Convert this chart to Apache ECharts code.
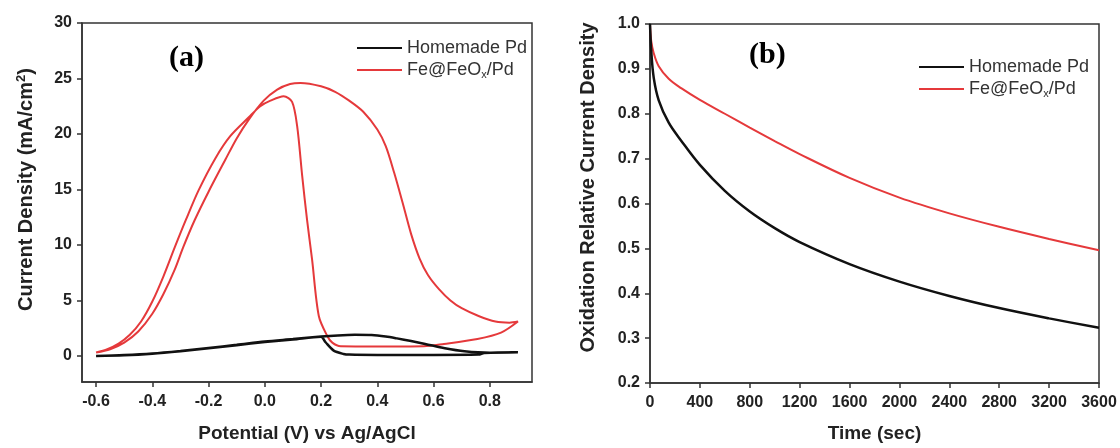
<!DOCTYPE html>
<html><head><meta charset="utf-8">
<script src="https://cdn.jsdelivr.net/npm/echarts@6/dist/echarts.min.js"></script>
<style>html,body{margin:0;padding:0;background:#fff}#c{width:1120px;height:448px}</style>
</head><body><div id="c"></div>
<script>
// ---------- data ----------
const seriesNames = ['Homemade Pd', 'Fe@FeOx/Pd'];
// (a) cyclic voltammograms: potential (V) and current density (mA/cm2), in scan (loop) order
const cvBlackV = [-0.6,-0.5,-0.4,-0.3,-0.2,-0.1,0.0,0.1,0.2,0.26,0.32,0.38,0.43,0.47,0.52,0.57,0.64,0.71,0.8,0.9,
                  0.78,0.76,0.6,0.4,0.3,0.28,0.245,0.216,0.2,0.1,0.0,-0.1,-0.2,-0.3,-0.4,-0.5,-0.6];
const cvBlackI = [0.0,0.08,0.22,0.45,0.72,1.0,1.3,1.52,1.75,1.85,1.9,1.88,1.75,1.58,1.34,1.08,0.69,0.42,0.29,0.32,
                  0.27,0.12,0.09,0.09,0.12,0.18,0.48,1.23,1.72,1.48,1.25,0.97,0.68,0.42,0.2,0.06,0.0];
const cvRedV = [-0.6,-0.55,-0.5,-0.45,-0.4,-0.36,-0.32,-0.29,-0.25,-0.2,-0.14,-0.1,-0.057,-0.004,0.044,0.09,0.127,
                0.2,0.25,0.3,0.35,0.4,0.43,0.46,0.49,0.52,0.55,0.58,0.62,0.66,0.7,0.76,0.82,0.87,0.9,
                0.84,0.756,0.637,0.565,0.4,0.27,0.24,0.222,0.192,0.168,0.15,0.133,0.115,0.097,0.067,
                0.02,-0.016,-0.057,-0.123,-0.176,-0.236,-0.28,-0.32,-0.36,-0.4,-0.44,-0.48,-0.52,-0.56,-0.6];
const cvRedI = [0.3,0.6,1.2,2.2,3.8,5.6,7.8,9.8,12.2,14.8,17.7,19.6,21.3,23.0,24.0,24.5,24.6,
                24.3,23.8,23.0,22.0,20.4,18.9,16.5,13.8,11.0,8.8,7.3,6.0,5.0,4.3,3.6,3.1,3.0,3.1,
                2.1,1.53,1.08,0.87,0.85,0.87,1.2,1.8,3.6,8.7,12.3,16.2,20.7,22.9,23.4,
                23.0,22.5,21.5,19.8,17.8,14.9,12.3,9.8,7.2,4.9,3.1,1.9,1.1,0.6,0.3];
const cvXTicks = [-0.6,-0.4,-0.2,0.0,0.2,0.4,0.6,0.8];
const cvYTicks = [0,5,10,15,20,25,30];
// (b) chronoamperometry: time (s) and relative oxidation current density
const timeSec = [0,10,30,70,150,250,400,600,800,1000,1200,1600,2000,2400,2800,3200,3600];
const homemadeRel = [1.0,0.94,0.88,0.83,0.78,0.74,0.686,0.628,0.582,0.545,0.514,0.465,0.426,0.394,0.367,0.344,0.323];
const fefeoxRel   = [1.0,0.962,0.935,0.906,0.878,0.857,0.831,0.800,0.769,0.739,0.710,0.657,0.613,0.578,0.548,0.521,0.496];
const relYTicks = [0.2,0.3,0.4,0.5,0.6,0.7,0.8,0.9,1.0];

// ---------- chart ----------
const zip = (a, b) => a.map((v, i) => [v, b[i]]);
const axisColor = '#333';
const FONT = 'Liberation Sans, Arial, sans-serif';
const tickLabel = {fontFamily: FONT, fontWeight: 'bold', fontSize: 16, color: '#222'};
const nameStyle = {fontFamily: FONT, fontWeight: 'bold', fontSize: 20, color: '#222'};
const legendStyle = {
  fontFamily: FONT, fontSize: 18, color: '#333',
  rich: {sub: {fontFamily: FONT, fontSize: 11, color: '#333', padding: [9, 0, 0, 0]}}
};
const legendFmt = n => n === 'Fe@FeOx/Pd' ? 'Fe@FeO{sub|x}/Pd' : n;
const baseAxis = {
  axisLine: {show: true, onZero: false, lineStyle: {color: axisColor, width: 1.5}},
  axisTick: {show: true, inside: false, length: 5, lineStyle: {color: axisColor, width: 1.5}},
  splitLine: {show: false}
};
const RED = '#e5393b', BLACK = '#111';

const option = {
  animation: false,
  backgroundColor: '#fff',
  title: [
    {text: '(a)', left: 164, top: 38, textStyle: {fontFamily: 'Liberation Serif, Times New Roman, serif', fontWeight: 'bold', fontSize: 30, color: '#000'}},
    {text: '(b)', left: 744, top: 35, textStyle: {fontFamily: 'Liberation Serif, Times New Roman, serif', fontWeight: 'bold', fontSize: 30, color: '#000'}}
  ],
  legend: [
    {data: seriesNames, orient: 'vertical', left: 352, top: 34, itemWidth: 45, itemHeight: 14, itemGap: 4,
     icon: 'path://M0,6 L45,6 L45,8 L0,8 Z', formatter: legendFmt, textStyle: legendStyle},
    {data: seriesNames, orient: 'vertical', left: 914, top: 53, itemWidth: 45, itemHeight: 14, itemGap: 4,
     icon: 'path://M0,6 L45,6 L45,8 L0,8 Z', formatter: legendFmt, textStyle: legendStyle}
  ],
  grid: [
    {left: 82, top: 23, width: 450, height: 360, show: true, borderColor: axisColor, borderWidth: 1.5, backgroundColor: 'transparent'},
    {left: 650, top: 24, width: 449, height: 363, show: true, borderColor: axisColor, borderWidth: 1.5, backgroundColor: 'transparent'}
  ],
  xAxis: [
    Object.assign({}, baseAxis, {
      type: 'value', gridIndex: 0, min: -0.65, max: 0.95,
      axisTick: Object.assign({}, baseAxis.axisTick, {customValues: cvXTicks}),
      axisLabel: Object.assign({}, tickLabel, {customValues: cvXTicks, margin: 12, formatter: v => v.toFixed(1)}),
      name: 'Potential (V) vs Ag/AgCl', nameLocation: 'middle', nameGap: 42, nameTextStyle: Object.assign({}, nameStyle, {fontSize: 19})
    }),
    Object.assign({}, baseAxis, {
      type: 'value', gridIndex: 1, min: 0, max: 3600, interval: 400,
      axisLabel: Object.assign({}, tickLabel, {margin: 12, showMaxLabel: true, formatter: v => String(v)}),
      name: 'Time (sec)', nameLocation: 'middle', nameGap: 41, nameTextStyle: Object.assign({}, nameStyle, {fontSize: 19})
    })
  ],
  yAxis: [
    Object.assign({}, baseAxis, {
      type: 'value', gridIndex: 0, min: -2.35, max: 30,
      axisTick: Object.assign({}, baseAxis.axisTick, {customValues: cvYTicks}),
      axisLabel: Object.assign({}, tickLabel, {customValues: cvYTicks, margin: 10}),
      name: 'Current Density (mA/cm{sup|2})', nameLocation: 'middle', nameGap: 45, nameRotate: 90,
      nameTextStyle: Object.assign({}, nameStyle, {padding: [0, 0, 0, 26],
        rich: {sup: {fontFamily: FONT, fontWeight: 'bold', fontSize: 13, color: '#222', padding: [0, 0, 9, 0]}}})
    }),
    Object.assign({}, baseAxis, {
      type: 'value', gridIndex: 1, min: 0.2, max: 1.0,
      axisTick: Object.assign({}, baseAxis.axisTick, {customValues: relYTicks}),
      axisLabel: Object.assign({}, tickLabel, {customValues: relYTicks, margin: 10, formatter: v => v.toFixed(1)}),
      name: 'Oxidation Relative Current Density', nameLocation: 'middle', nameGap: 52, nameRotate: 90,
      nameTextStyle: Object.assign({}, nameStyle, {padding: [0, 0, 0, 32]})
    })
  ],
  series: [
    {name: seriesNames[1], type: 'line', xAxisIndex: 0, yAxisIndex: 0, data: zip(cvRedV, cvRedI),
     symbol: 'none', smooth: 0.3, z: 2, lineStyle: {color: RED, width: 2}, itemStyle: {color: RED}},
    {name: seriesNames[0], type: 'line', xAxisIndex: 0, yAxisIndex: 0, data: zip(cvBlackV, cvBlackI),
     symbol: 'none', smooth: 0.3, z: 3, lineStyle: {color: BLACK, width: 2.5}, itemStyle: {color: BLACK}},
    {name: seriesNames[0], type: 'line', xAxisIndex: 1, yAxisIndex: 1, data: zip(timeSec, homemadeRel),
     symbol: 'none', smooth: 0.35, z: 3, lineStyle: {color: BLACK, width: 2.5}, itemStyle: {color: BLACK}},
    {name: seriesNames[1], type: 'line', xAxisIndex: 1, yAxisIndex: 1, data: zip(timeSec, fefeoxRel),
     symbol: 'none', smooth: 0.35, z: 2, lineStyle: {color: RED, width: 2}, itemStyle: {color: RED}}
  ]
};
const chart = echarts.init(document.getElementById('c'), null, {renderer: 'canvas'});
chart.setOption(option);
</script>
</body></html>
